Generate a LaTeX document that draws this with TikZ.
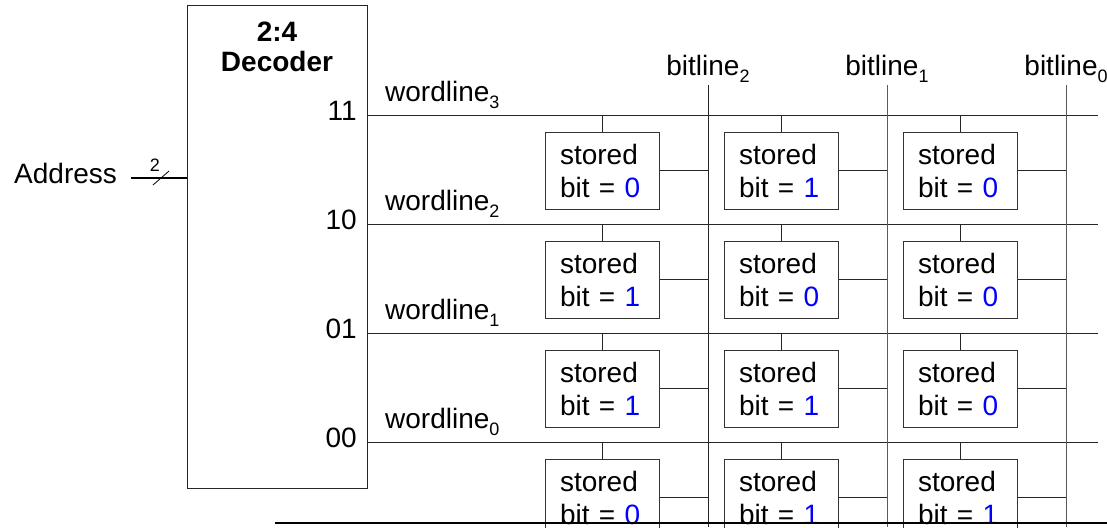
\documentclass[tikz,border=0pt]{standalone}
\usepackage{fontspec}
\setmainfont{Liberation Sans}
\usetikzlibrary{calc}
\newcommand{\sbs}[1]{\raisebox{-7pt}{\fontsize{18}{18}\selectfont #1}}
\newcommand{\bv}[1]{\textcolor{blue}{#1}}
\begin{document}
\begin{tikzpicture}[x=1pt,y=-1pt,
  every node/.style={font=\fontsize{28}{33}\selectfont, inner sep=0pt},
  wire/.style={line width=1pt, black!85},
  gwire/.style={line width=1pt, black!65},
  cellbox/.style={draw=black!80, line width=1pt, minimum width=114pt, minimum height=77pt,
    text width=84pt, inner xsep=15pt, align=left},
  declabel/.style={anchor=east},
  wllabel/.style={anchor=west},
  bllabel/.style={anchor=center}]
\useasboundingbox (0,0) rectangle (1107,527);

% decoder
\node[draw=black!85, line width=1pt, minimum width=180pt, minimum height=483pt, anchor=north west] (dec) at (187,5) {};
\node[font=\bfseries\fontsize{28}{30}\selectfont, align=center] (dectitle) at (277,47) {2:4\\Decoder};

% address bus
\node[anchor=west] (addr) at (14,173) {Address};
\coordinate (busstart) at (131,178);
\draw[line width=2pt] (busstart) -- (dec.west |- busstart);
\coordinate (sl1) at (153,185);
\coordinate (sl2) at (169,171);
\draw[line width=0.8pt] (sl1) -- (sl2);
\node[font=\fontsize{18}{18}\selectfont] (buswidth) at (155,165) {2};

% wordlines
\foreach \n/\y/\code in {3/115/11, 2/224/10, 1/333/01, 0/442/00} {
  \coordinate (wl\n s) at (367,\y);
  \coordinate (wl\n e) at (1098,\y);
  \draw[wire] (wl\n s) -- (wl\n e);
  \node[declabel] (code\n) at (357,\y-4) {\code};
  \node[wllabel] (wlname\n) at (385,\y-20) {wordline\sbs{\n}};
}

% bitlines
\foreach \n/\x/\st in {2/708/wire, 1/887/gwire, 0/1066/gwire} {
  \coordinate (bl\n t) at (\x,85);
  \coordinate (bl\n b) at (\x,527);
  \draw[\st] (bl\n t) -- (bl\n b);
  \node[bllabel] (blname\n) at (\x,69) {bitline\sbs{\n}};
}

% cells
\foreach \r/\y in {3/170.5, 2/279.5, 1/388.5, 0/497.5} {
  \foreach \c/\x in {2/602, 1/781, 0/960} {
    \coordinate (cc\r\c) at (\x,\y);
  }
}
\foreach \r/\bits in {3/{0,1,0}, 2/{1,0,0}, 1/{1,1,0}, 0/{0,1,1}} {
  \foreach \c [count=\i] in \bits {
    \pgfmathtruncatemacro{\col}{3-\i}
    \node[cellbox] (cell\r\col) at (cc\r\col) {stored\\bit = \bv{\c}};
    \draw[wire] (cell\r\col.north) -- (cell\r\col.north |- wl\r s);
    \draw[wire] (cell\r\col.east) -- (cell\r\col.east -| bl\col t);
  }
}

% cut-off band at the bottom edge
\coordinate (band1) at (275,523);
\coordinate (band2) at (1107,523);
\draw[line width=2.5pt] (band1) -- (band2);
\end{tikzpicture}
\end{document}
